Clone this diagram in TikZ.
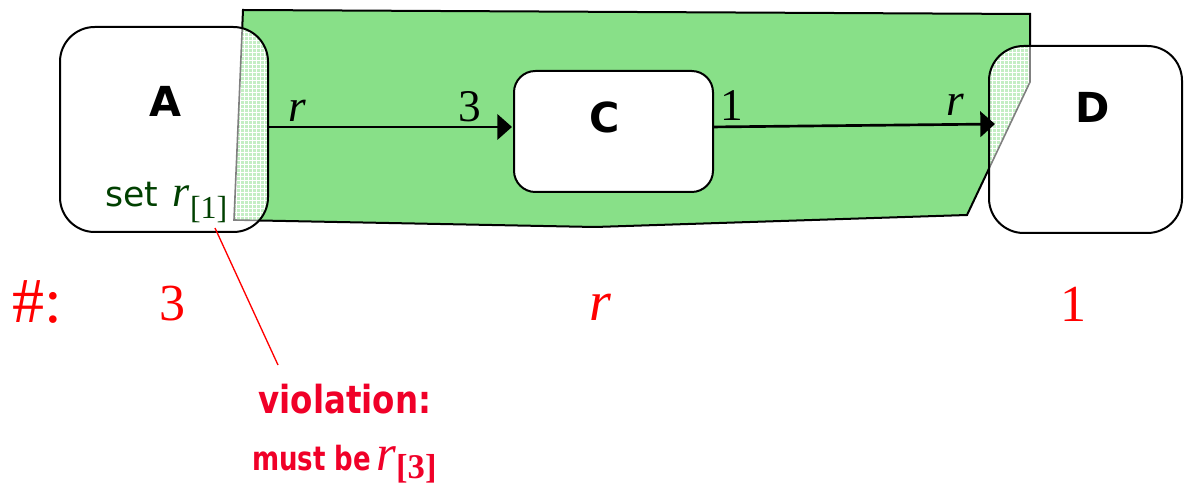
\documentclass[tikz,border=0pt]{standalone}
\usepackage{fontspec}
\setmainfont{Liberation Serif}
\newfontfamily\tah{DejaVu Sans}
\usetikzlibrary{arrows.meta,patterns}
\definecolor{polygreen}{RGB}{136,224,136}
\definecolor{hatchgreen}{RGB}{196,238,196}
\definecolor{darkgreen}{RGB}{0,64,0}
\definecolor{violred}{RGB}{240,0,40}
\begin{document}
\begin{tikzpicture}[x=0.75pt,y=-0.75pt,
  boxfill/.style={fill=white, inner sep=0pt, outer sep=0pt},
  border/.style={line width=1.5pt},
  boxlbl/.style={font=\tah\bfseries\fontsize{31}{34}\selectfont, inner sep=0pt, anchor=base},
  arrlbl/.style={font=\fontsize{34}{36}\selectfont, inner sep=0pt, anchor=base},
  cntlbl/.style={font=\fontsize{39}{42}\selectfont, text=red, inner sep=0pt, anchor=base},
  flow/.style={line width=2pt, -{Triangle[length=11pt,width=19pt]}},
  hatchedge/.style={draw=gray, line width=1.2pt}
]
\useasboundingbox (0,0) rectangle (1184,488);
% green region
\draw[border, fill=polygreen] (243,10) -- (1030,14) -- (1030,82) -- (967,215) -- (595,227) -- (234,220) -- cycle;
% boxes A and D (fill)
\node[boxfill, rounded corners=26pt, minimum width=156pt, minimum height=153.75pt] (boxA) at (164,129.5) {};
\node[boxfill, rounded corners=26pt, minimum width=144.75pt, minimum height=140.25pt] (boxD) at (1085.5,139.5) {};
% overlaps
\begin{scope}
  \clip[rounded corners=26pt] (boxA.south west) rectangle (boxA.north east);
  \fill[hatchgreen] (243,10) -- (1030,14) -- (1030,82) -- (967,215) -- (595,227) -- (234,220) -- cycle;
  \fill[pattern=grid, pattern color=white] (243,10) -- (1030,14) -- (1030,82) -- (967,215) -- (595,227) -- (234,220) -- cycle;
  \draw[hatchedge] (243,10) -- (1030,14) -- (1030,82) -- (967,215) -- (595,227) -- (234,220) -- cycle;
\end{scope}
\begin{scope}
  \clip[rounded corners=26pt] (boxD.south west) rectangle (boxD.north east);
  \fill[hatchgreen] (243,10) -- (1030,14) -- (1030,82) -- (967,215) -- (595,227) -- (234,220) -- cycle;
  \fill[pattern=grid, pattern color=white] (243,10) -- (1030,14) -- (1030,82) -- (967,215) -- (595,227) -- (234,220) -- cycle;
  \draw[hatchedge] (243,10) -- (1030,14) -- (1030,82) -- (967,215) -- (595,227) -- (234,220) -- cycle;
\end{scope}
\draw[border, rounded corners=26pt] (boxA.south west) rectangle (boxA.north east);
\draw[border, rounded corners=26pt] (boxD.south west) rectangle (boxD.north east);
% box C
\node[boxfill, draw, border, rounded corners=16pt, minimum width=149.25pt, minimum height=90.75pt] (boxC) at (613.5,131.5) {};
% box labels
\node[boxlbl] (lblA) at (165,117) {A};
\node[boxlbl] (lblC) at (605,133) {C};
\node[boxlbl] (lblD) at (1093,123) {D};
\node[anchor=base west, inner sep=0pt, text=darkgreen] (setr) at (105,207)
  {{\tah\fontsize{26}{30}\selectfont set}\hspace{11pt}{\fontsize{33}{36}\selectfont\itshape r}\raisebox{-9pt}{\fontsize{24}{26}\selectfont[1]}};
% arrows
\draw[flow] ([yshift=1.9pt]boxA.east) -- ([xshift=-1.5pt,yshift=3.4pt]boxC.west);
\draw[flow] ([yshift=3.4pt]boxC.east) -- ([xshift=4.5pt,yshift=11.6pt]boxD.west);
\node[arrlbl] (l1) at (297,122) {\itshape r};
\node[arrlbl] (l2) at (470,122) {3};
\node[arrlbl] (l3) at (732,121) {1};
\node[arrlbl] (l4) at (955,116) {\itshape r};
% counts
\node[cntlbl, font=\fontsize{48}{50}\selectfont] (hash) at (37,322) {\#:};
\node[cntlbl] (c1) at (172,320) {3};
\node[cntlbl, font=\fontsize{42}{44}\selectfont] (c2) at (600,320) {\itshape r};
\node[cntlbl] (c3) at (1073,321) {1};
% violation
\coordinate (vsrc) at (215,228);
\coordinate (vtop) at (278,365);
\draw[red, line width=1pt] (vsrc) -- (vtop);
\node[font=\tah\bfseries\fontsize{29}{32}\selectfont, text=violred, anchor=base, xscale=0.84, inner sep=0pt] (viol) at (345,413) {violation:};
\node[anchor=base west, text=violred, inner sep=0pt] (mustbe) at (252,470)
  {\scalebox{0.78}[1]{\tah\bfseries\fontsize{25}{28}\selectfont must be}\hspace{4pt}{\fontsize{38}{40}\selectfont\itshape r}\raisebox{-6pt}{\fontsize{26}{28}\selectfont\bfseries[3]}};
\end{tikzpicture}
\end{document}
